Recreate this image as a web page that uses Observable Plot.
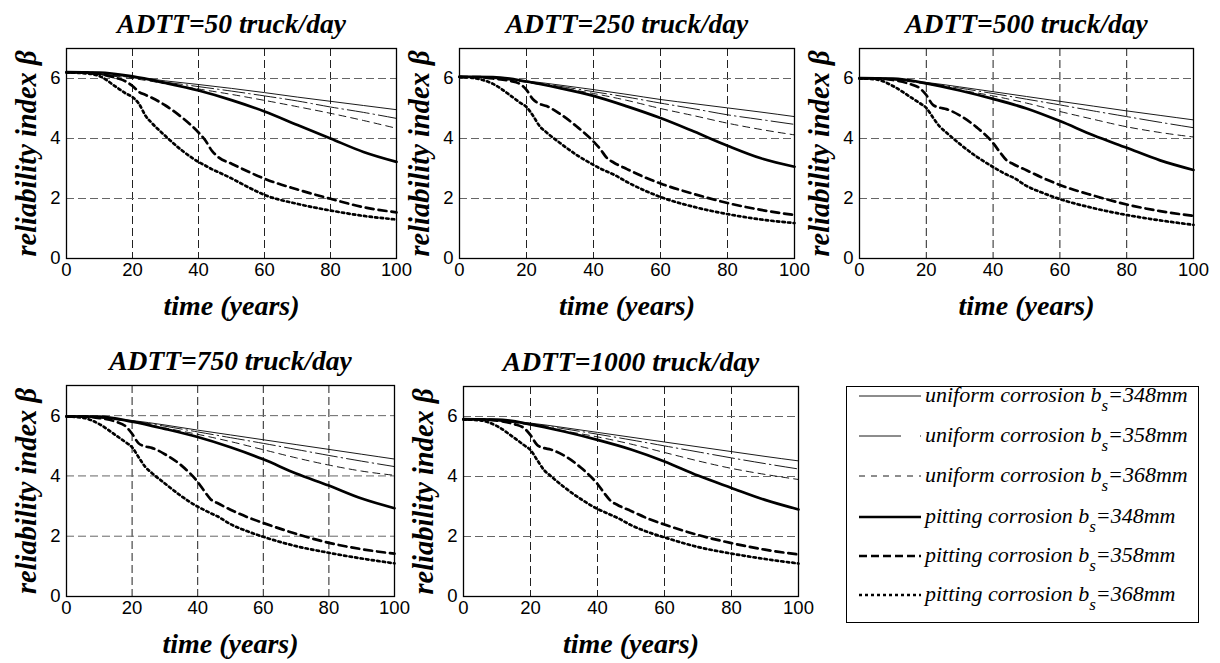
<!DOCTYPE html>
<html><head><meta charset="utf-8">
<script src="https://cdn.jsdelivr.net/npm/d3@7"></script>
<script src="https://cdn.jsdelivr.net/npm/@observablehq/plot@0.6"></script>
<style>
body{margin:0;background:#fff;}
#wrap{position:relative;width:1220px;height:663px;overflow:hidden;background:#fff;}
#wrap svg{position:absolute;overflow:visible;}
</style></head><body><div id="wrap"></div>
<script>
// ---- data ----
const panelTitles = ["ADTT=50 truck/day","ADTT=250 truck/day","ADTT=500 truck/day","ADTT=750 truck/day","ADTT=1000 truck/day"];
const xTicks = [0,20,40,60,80,100];
const yTicks = [0,2,4,6];
const seriesNames = ["uniform corrosion","uniform corrosion","uniform corrosion","pitting corrosion","pitting corrosion","pitting corrosion"];
const seriesWidths = ["=348mm","=358mm","=368mm","=348mm","=358mm","=368mm"];

// time grid of the smooth curves (uniform corrosion and pitting b_s=348mm)
const tSmooth = [0,10,20,30,40,50,60,70,80,90,100];
// time grid of the pitting b_s=358mm / 368mm curves
const tPit = [0,5,10,15,18,20,22,24,26,30,35,40,42,44,46,50,55,60,70,80,90,100];

// one row per panel (ADTT 50, 250, 500, 750, 1000)
const uniform348 = [
  [6.2,6.15,6.05,5.92,5.8,5.67,5.53,5.38,5.24,5.1,4.96],
  [6.05,6.02,5.92,5.78,5.63,5.47,5.3,5.16,5.02,4.88,4.73],
  [6.0,5.97,5.87,5.72,5.56,5.4,5.24,5.08,4.92,4.77,4.62],
  [5.97,5.94,5.84,5.69,5.52,5.36,5.2,5.04,4.88,4.72,4.56],
  [5.9,5.87,5.78,5.63,5.47,5.31,5.15,4.99,4.83,4.67,4.52]
];
const uniform358 = [
  [6.2,6.14,6.03,5.88,5.73,5.58,5.42,5.25,5.05,4.87,4.67],
  [6.05,6.01,5.9,5.74,5.56,5.38,5.18,4.99,4.79,4.63,4.47],
  [6.0,5.96,5.85,5.68,5.5,5.31,5.12,4.92,4.73,4.54,4.36],
  [5.97,5.93,5.82,5.65,5.46,5.27,5.08,4.88,4.68,4.49,4.31],
  [5.9,5.86,5.76,5.59,5.41,5.22,5.02,4.82,4.62,4.43,4.25]
];
const uniform368 = [
  [6.2,6.12,6.0,5.83,5.65,5.47,5.27,5.06,4.84,4.6,4.34],
  [6.05,6.0,5.87,5.69,5.5,5.27,5.0,4.76,4.51,4.3,4.12],
  [6.0,5.95,5.82,5.62,5.42,5.18,4.9,4.64,4.39,4.2,4.05],
  [5.97,5.92,5.79,5.59,5.38,5.14,4.87,4.6,4.36,4.16,4.02],
  [5.9,5.85,5.72,5.52,5.32,5.08,4.8,4.52,4.27,4.07,3.9]
];
const pitting348 = [
  [6.21,6.2,6.07,5.85,5.6,5.28,4.9,4.45,4.0,3.55,3.22],
  [6.06,6.05,5.9,5.68,5.42,5.07,4.68,4.23,3.76,3.34,3.06],
  [6.01,6.0,5.84,5.6,5.32,5.0,4.58,4.11,3.69,3.27,2.95],
  [5.98,5.97,5.8,5.56,5.29,4.95,4.55,4.08,3.68,3.25,2.93],
  [5.91,5.9,5.74,5.5,5.22,4.9,4.5,4.03,3.62,3.22,2.9]
];
const pitting358 = [
  [6.2,6.2,6.15,6.02,5.9,5.75,5.55,5.45,5.35,5.1,4.7,4.2,3.95,3.6,3.38,3.16,2.9,2.66,2.3,1.99,1.71,1.54],
  [6.05,6.05,6.0,5.92,5.82,5.62,5.3,5.15,5.08,4.82,4.4,3.9,3.65,3.35,3.2,2.98,2.72,2.5,2.15,1.85,1.62,1.45],
  [6.0,6.0,5.95,5.82,5.68,5.45,5.12,5.03,4.98,4.77,4.38,3.85,3.55,3.28,3.15,2.94,2.68,2.45,2.1,1.8,1.58,1.42],
  [5.97,5.97,5.92,5.8,5.65,5.4,5.08,4.98,4.93,4.72,4.35,3.8,3.5,3.22,3.1,2.88,2.64,2.44,2.08,1.78,1.57,1.42],
  [5.9,5.9,5.86,5.75,5.62,5.38,5.05,4.95,4.9,4.7,4.3,3.75,3.45,3.18,3.05,2.85,2.6,2.4,2.05,1.78,1.56,1.4]
];
const pitting368 = [
  [6.2,6.18,6.08,5.72,5.5,5.38,5.15,4.75,4.5,4.08,3.6,3.22,3.1,2.98,2.88,2.67,2.38,2.12,1.82,1.6,1.42,1.3],
  [6.05,6.0,5.82,5.45,5.2,5.05,4.75,4.4,4.2,3.85,3.45,3.12,3.0,2.9,2.8,2.55,2.28,2.05,1.72,1.48,1.3,1.18],
  [6.0,5.97,5.75,5.4,5.18,5.02,4.7,4.4,4.2,3.82,3.4,3.05,2.92,2.8,2.7,2.42,2.18,1.98,1.68,1.45,1.27,1.12],
  [5.97,5.93,5.72,5.35,5.12,4.95,4.62,4.3,4.1,3.75,3.33,2.98,2.87,2.76,2.66,2.4,2.17,1.98,1.67,1.45,1.26,1.1],
  [5.9,5.87,5.68,5.3,5.05,4.88,4.55,4.22,4.02,3.65,3.25,2.92,2.82,2.72,2.62,2.38,2.15,1.97,1.65,1.43,1.25,1.1]
];

// ---- layout / styles ----
const seriesData = [uniform348, uniform358, uniform368, pitting348, pitting358, pitting368];
const seriesTime = [tSmooth, tSmooth, tSmooth, tSmooth, tPit, tPit];
const lineStyle = [
  {w:0.9, dash:null},
  {w:0.9, dash:"22,4,1.5,4"},
  {w:0.9, dash:"7,5"},
  {w:2.7, dash:null},
  {w:2.7, dash:"8,5"},
  {w:2.7, dash:"2.4,3.2"}
];
const legendDash = [null, "42,19,1.5,200", "6,6", null, "8,4", "3,3"];
// plot-area boxes [left, top, right, bottom]
const boxes = [[66,48,396,258],[459,48,794,258],[859,48,1193,258],[66,385,394,596],[463,386,798,596]];

const serif = "'Liberation Serif','Times New Roman',Times,serif";
const sans = "'Liberation Sans',Arial,Helvetica,sans-serif";
const wrap = document.getElementById("wrap");

boxes.forEach((b, i) => {
  const mL = 66, mT = 48, mR = 24, mB = 72;
  const W = mL + (b[2]-b[0]) + mR, H = mT + (b[3]-b[1]) + mB;
  const lineMarks = seriesData.map((s, k) => {
    const rows = seriesTime[k].map((t, j) => ({t, beta: s[i][j]}));
    return Plot.line(rows, {x:"t", y:"beta", stroke:"#000", strokeWidth:lineStyle[k].w,
      strokeDasharray: lineStyle[k].dash || undefined, curve:"monotone-x", strokeLinejoin:"round"});
  });
  const chart = Plot.plot({
    width: W, height: H, marginLeft: mL, marginTop: mT, marginRight: mR, marginBottom: mB,
    style: {background:"transparent", overflow:"visible"},
    x: {domain:[0,100]}, y: {domain:[0,7]},
    marks: [
      Plot.gridX([20,40,60,80], {stroke:"#222", strokeOpacity:1, strokeWidth:1, strokeDasharray:"8,4"}),
      Plot.gridY([2,4,6], {stroke:"#666", strokeOpacity:1, strokeWidth:1, strokeDasharray:"8,4"}),
      ...lineMarks,
      Plot.frame({stroke:"#000", strokeWidth:1.3}),
      Plot.axisX(xTicks, {tickSize:0, tickPadding:4, fontSize:18.5, fontFamily:sans, label:null}),
      Plot.axisY(yTicks, {tickSize:0, tickPadding:6, fontSize:18.5, fontFamily:sans, label:null}),
      Plot.text([panelTitles[i]], {frameAnchor:"top", dy:-24, text:d=>d, fontSize:27.5, fontFamily:serif,
        fontWeight:"bold", fontStyle:"italic", lineAnchor:"middle", textAnchor:"middle"}),
      Plot.text(["time (years)"], {frameAnchor:"bottom", dy:48, text:d=>d, fontSize:28, fontFamily:serif,
        fontWeight:"bold", fontStyle:"italic", lineAnchor:"middle", textAnchor:"middle"}),
      Plot.text(["reliability index β"], {frameAnchor:"left", dx:-40, rotate:-90, text:d=>d, fontSize:28.5,
        fontFamily:serif, fontWeight:"bold", fontStyle:"italic", lineAnchor:"middle", textAnchor:"middle"})
    ]
  });
  chart.style.left = (b[0]-mL) + "px";
  chart.style.top = (b[1]-mT) + "px";
  wrap.appendChild(chart);
});

// ---- legend ----
const legL = 846, legT = 386, legW = 353, legH = 237;
const rowY = [396, 436, 476, 517, 556, 595];
const leg = d3.select(wrap).append("svg").attr("width", legW).attr("height", legH)
  .style("left", legL+"px").style("top", legT+"px");
leg.append("rect").attr("x",0.5).attr("y",0.5).attr("width",legW-1).attr("height",legH-1)
  .attr("fill","#fff").attr("stroke","#000").attr("stroke-width",1);
seriesNames.forEach((name, k) => {
  const y = rowY[k] - legT;
  leg.append("line").attr("x1",13).attr("x2",75).attr("y1",y).attr("y2",y)
    .attr("stroke","#000").attr("stroke-width", lineStyle[k].w)
    .attr("stroke-dasharray", legendDash[k]);
  const tx = leg.append("text").attr("x",79).attr("y",y+6)
    .attr("font-family",serif).attr("font-style","italic").attr("font-size",22);
  tx.append("tspan").text(name + " b");
  tx.append("tspan").attr("dy",9).attr("font-size",17).text("s");
  tx.append("tspan").attr("dy",-9).text(seriesWidths[k]);
});
</script></body></html>
